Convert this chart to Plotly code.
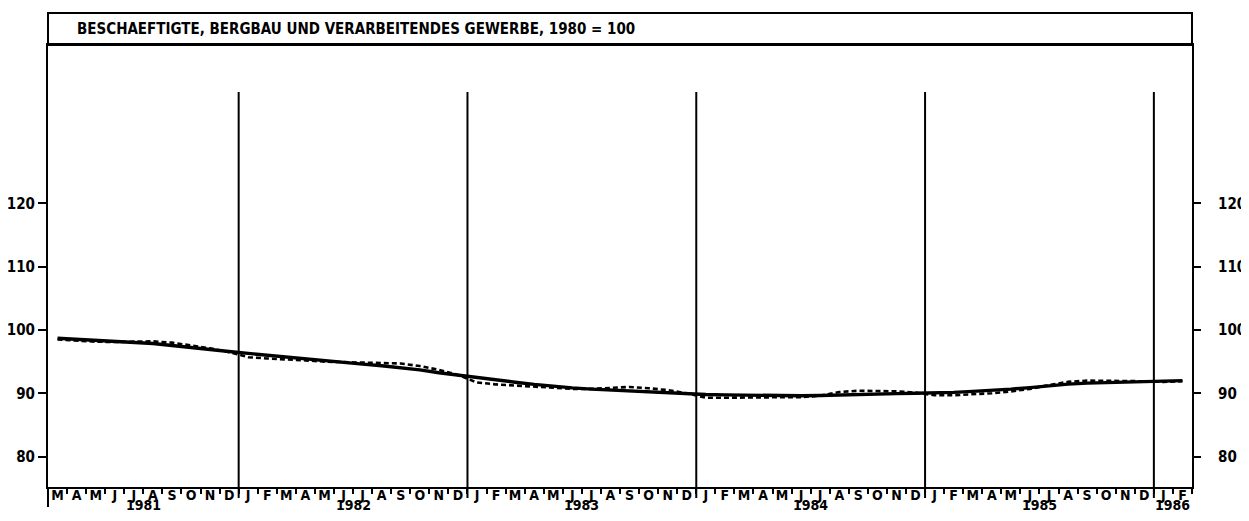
import plotly.graph_objects as go

# ---------------- data ----------------
month_letters = ["M", "A", "M", "J", "J", "A", "S", "O", "N", "D",
                 "J", "F", "M", "A", "M", "J", "J", "A", "S", "O", "N", "D",
                 "J", "F", "M", "A", "M", "J", "J", "A", "S", "O", "N", "D",
                 "J", "F", "M", "A", "M", "J", "J", "A", "S", "O", "N", "D",
                 "J", "F", "M", "A", "M", "J", "J", "A", "S", "O", "N", "D",
                 "J", "F"]
month_index = list(range(len(month_letters)))  # 0 = Mar 1981 ... 59 = Feb 1986

trend = [98.7, 98.55, 98.4, 98.25, 98.1, 97.85, 97.55, 97.2, 96.9, 96.6,
         96.3, 96.0, 95.7, 95.4, 95.1, 94.85, 94.6, 94.35, 94.05, 93.7, 93.25, 92.85,
         92.45, 92.1, 91.75, 91.4, 91.1, 90.85, 90.65, 90.5, 90.4, 90.25, 90.1, 89.95,
         89.8, 89.75, 89.7, 89.65, 89.6, 89.6, 89.65, 89.75, 89.85, 89.9, 89.95, 90.0,
         90.05, 90.15, 90.3, 90.45, 90.65, 90.9, 91.2, 91.45, 91.6, 91.7, 91.8, 91.85,
         91.9, 92.0]

actual = [98.5, 98.3, 98.15, 98.1, 98.2, 98.2, 98.0, 97.6, 97.1, 96.5,
          95.7, 95.5, 95.4, 95.2, 95.0, 94.9, 94.85, 94.8, 94.7, 94.3, 93.7, 92.9,
          91.7, 91.4, 91.2, 91.0, 90.8, 90.7, 90.7, 90.9, 91.0, 90.8, 90.5, 90.0,
          89.3, 89.3, 89.3, 89.3, 89.3, 89.4, 89.6, 90.2, 90.4, 90.4, 90.3, 90.1,
          89.7, 89.7, 89.8, 90.0, 90.3, 90.7, 91.3, 91.8, 92.0, 92.0, 91.9, 91.9,
          91.8, 91.9]

years = ["1981", "1982", "1983", "1984", "1985", "1986"]
year_first_month = [0, 10, 22, 34, 46, 58]
year_last_month = [9, 21, 33, 45, 57, 59]
y_ticks = [80, 90, 100, 110, 120]
title_text = "BESCHAEFTIGTE, BERGBAU UND VERARBEITENDES GEWERBE, 1980 = 100"

# ---------------- styling ----------------
FONT = "DejaVu Sans Condensed, Liberation Sans Narrow, sans-serif"
W, H = 1249, 521
OFF = 8  # page body offset
L, R, T, B = 48 - OFF, W - (1192 - OFF), 45 - OFF, H - (487 - OFF)
plot_h = 487 - 45
plot_w = 1192 - 48
y_range = [75.2, 145.0]
x_range = [-0.5, 59.5]

# right-hand labels sit further from their axis than the left-hand ones
right_tick_text = ["\u00a0\u00a0\u00a0" + str(v) for v in y_ticks]

fig = go.Figure()
fig.add_trace(go.Scatter(x=month_index, y=actual, mode="lines",
                         line=dict(color="black", width=2.6, dash="5px,3px"),
                         showlegend=False, hoverinfo="skip"))
fig.add_trace(go.Scatter(x=month_index, y=trend, mode="lines",
                         line=dict(color="black", width=3.4),
                         showlegend=False, hoverinfo="skip"))
# invisible trace to activate the right-hand axis
fig.add_trace(go.Scatter(x=[month_index[0]], y=[trend[0]], yaxis="y2",
                         mode="markers", marker=dict(opacity=0),
                         showlegend=False, hoverinfo="skip"))

shapes = []
# year separator lines (boundaries between December and January)
for fm in year_first_month[1:]:
    shapes.append(dict(type="line", xref="x", yref="paper",
                       x0=fm - 0.5, x1=fm - 0.5,
                       y0=-11 / plot_h, y1=(487 - 92) / plot_h,
                       line=dict(color="black", width=2)))
# title box
shapes.append(dict(type="rect", xref="paper", yref="paper",
                   x0=0, x1=1, y0=1, y1=(487 - 13) / plot_h,
                   line=dict(color="black", width=2), fillcolor="rgba(0,0,0,0)"))
# left axis extension below the plot
shapes.append(dict(type="line", xref="paper", yref="paper",
                   x0=0, x1=0, y0=-20 / plot_h, y1=0,
                   line=dict(color="black", width=2)))

annotations = [dict(text=title_text, xref="paper", yref="paper",
                    x=(75 - 48) / plot_w, y=(487 - 29) / plot_h,
                    xanchor="left", yanchor="middle", showarrow=False,
                    font=dict(family=FONT, size=15, color="black", weight="bold"))]
for yr, a, b in zip(years, year_first_month, year_last_month):
    annotations.append(dict(text=yr, xref="x", yref="paper",
                            x=(a + b) / 2, y=-18 / plot_h,
                            xanchor="center", yanchor="middle", showarrow=False,
                            font=dict(family=FONT, size=14, color="black", weight="bold")))

fig.update_layout(
    width=W, height=H,
    margin=dict(l=L, r=R, t=T, b=B, pad=0, autoexpand=False),
    paper_bgcolor="white", plot_bgcolor="white",
    shapes=shapes, annotations=annotations,
    xaxis=dict(range=x_range, showgrid=False, zeroline=False, automargin=False,
               showline=True, linecolor="black", linewidth=2, mirror=True,
               tickmode="array", tickvals=month_index, ticktext=month_letters,
               ticks="", ticklabelstandoff=-6,
               tickfont=dict(family=FONT, size=14, color="black", weight="bold"),
               minor=dict(tickmode="linear", tick0=-0.5, dtick=1, ticks="outside",
                          ticklen=5, tickwidth=1.5, tickcolor="black", showgrid=False)),
    yaxis=dict(range=y_range, showgrid=False, zeroline=False, automargin=False,
               showline=True, linecolor="black", linewidth=2,
               tickmode="array", tickvals=y_ticks, ticks="outside",
               ticklen=8, tickwidth=2, tickcolor="black",
               tickfont=dict(family=FONT, size=15, color="black", weight="bold")),
    yaxis2=dict(range=y_range, overlaying="y", side="right", showgrid=False,
                zeroline=False, automargin=False, showline=True, linecolor="black",
                linewidth=2, tickmode="array", tickvals=y_ticks,
                ticktext=right_tick_text, ticks="outside",
                ticklen=7, tickwidth=2, tickcolor="black",
                tickfont=dict(family=FONT, size=15, color="black", weight="bold")),
)

fig.write_html("out.html")
